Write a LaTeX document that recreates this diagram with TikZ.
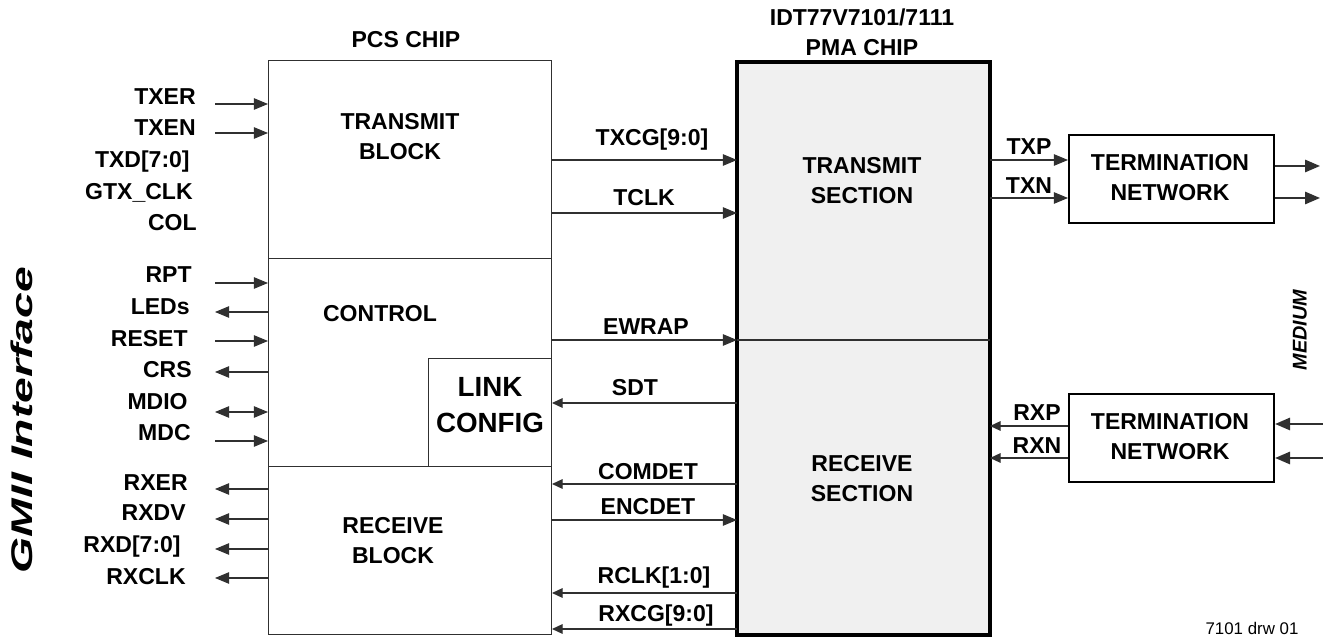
\documentclass[tikz,border=0pt]{standalone}
\usepackage{fontspec}
\setmainfont{Liberation Sans}
\usetikzlibrary{arrows.meta}
\newlength\px
\setlength\px{0.02cm}
\newcommand\lbf{\fontsize{13.1}{17}\selectfont\bfseries}
\newcommand\bigf{\fontsize{15.8}{20.4}\selectfont\bfseries}
\definecolor{pmafill}{HTML}{F0F0F0}
\definecolor{ln}{HTML}{303030}
\tikzset{
  lbl/.style={font=\lbf, inner sep=0, align=center},
  sig/.style={font=\lbf, inner sep=0, anchor=base east},
  thinbox/.style={draw=ln, line width=0.6pt, inner sep=0, anchor=north west},
  secbox/.style={thinbox, fill=pmafill},
  termbox/.style={draw=black, line width=1.2pt, inner sep=0, anchor=north west},
  arr/.style={draw=ln, line width=0.6pt, -{Triangle[length=8pt,width=6.5pt]}},
  arrb/.style={draw=ln, line width=0.6pt, {Triangle[length=8pt,width=6.5pt]}-{Triangle[length=8pt,width=6.5pt]}},
  sarr/.style={draw=ln, line width=0.6pt, -{Triangle[length=6pt,width=5.5pt]}},
  barr/.style={draw=ln, line width=1.1pt, -{Triangle[length=8.5pt,width=7pt]}},
}
\begin{document}
\begin{tikzpicture}[x=0.02cm,y=-0.02cm]
\useasboundingbox (0,0) rectangle (1323,644);

% PCS chip blocks
\node[thinbox, minimum width=283\px, minimum height=198\px] (txb) at (268,60) {};
\node[thinbox, minimum width=283\px, minimum height=208\px] (ctl) at (268,258) {};
\node[thinbox, minimum width=283\px, minimum height=168\px] (rxb) at (268,466) {};
\node[thinbox, minimum width=123\px, minimum height=108\px] (link) at (428,358) {};

% PMA chip sections
\node[secbox, minimum width=252\px, minimum height=278\px] (tsec) at (737,62) {};
\node[secbox, minimum width=252\px, minimum height=294\px] (rsec) at (737,340) {};
\draw[line width=2.2pt] (tsec.north west) rectangle (rsec.south east);

% termination networks
\node[termbox, minimum width=205\px, minimum height=88\px] (tn1) at (1068,134) {};
\node[termbox, minimum width=205\px, minimum height=88\px] (tn2) at (1068,393) {};

% titles and block texts
\node[lbl] (pcst) at (406,40) {PCS CHIP};
\node[lbl] (pmat) at (862,32) {IDT77V7101/7111\\PMA CHIP};
\node[lbl] (txbt) at (400,137) {TRANSMIT\\BLOCK};
\node[lbl] (ctlt) at (380,314) {CONTROL};
\node[lbl] (rxbt) at (393,541) {RECEIVE\\BLOCK};
\node[font=\bigf, inner sep=0, align=center] (linkt) at (490,405) {LINK\\CONFIG};
\node[lbl] (tsect) at (862,181) {TRANSMIT\\SECTION};
\node[lbl] (rsect) at (862,479) {RECEIVE\\SECTION};
\node[lbl] (tn1t) at (1170,178) {TERMINATION\\NETWORK};
\node[lbl] (tn2t) at (1170,437) {TERMINATION\\NETWORK};

% rotated labels
\node[inner sep=0, rotate=90, font=\fontsize{17}{20}\selectfont\bfseries\itshape] (gmii) at (22,420) {\scalebox{1.55}[1]{GMII Interface}};
\node[inner sep=0, rotate=90, font=\fontsize{11.3}{13}\selectfont\bfseries\itshape] (medium) at (1300,330) {MEDIUM};
\node[inner sep=0, font=\fontsize{9.6}{11}\selectfont] (drw) at (1252,628) {7101 drw 01};

% left signal labels
\node[sig] (sTXER) at (196,105) {TXER};
\node[sig] (sTXEN) at (196,136) {TXEN};
\node[sig] (sTXD) at (190,168) {TXD[7:0]};
\node[sig] (sGTX) at (193,200) {GTX\_CLK};
\node[sig] (sCOL) at (197,231) {COL};
\node[sig] (sRPT) at (192,283) {RPT};
\node[sig] (sLED) at (190,315) {LEDs};
\node[sig] (sRST) at (188,347) {RESET};
\node[sig] (sCRS) at (192,378) {CRS};
\node[sig] (sMDIO) at (188,410) {MDIO};
\node[sig] (sMDC) at (191,441) {MDC};
\node[sig] (sRXER) at (188,491) {RXER};
\node[sig] (sRXDV) at (186,521) {RXDV};
\node[sig] (sRXD) at (181,553) {RXD[7:0]};
\node[sig] (sRXCLK) at (186,585) {RXCLK};

% left arrow ends
\coordinate (cTXER) at (215,104);
\coordinate (cTXEN) at (215,133);
\coordinate (cRPT) at (215,283);
\coordinate (cLED) at (215,312);
\coordinate (cRST) at (215,341);
\coordinate (cCRS) at (215,372);
\coordinate (cMDIO) at (215,412);
\coordinate (cMDC) at (215,441);
\coordinate (cRXER) at (215,489);
\coordinate (cRXDV) at (215,519);
\coordinate (cRXD) at (215,549);
\coordinate (cRXCLK) at (215,578);

\draw[arr] (cTXER) -- (cTXER -| txb.west);
\draw[arr] (cTXEN) -- (cTXEN -| txb.west);
\draw[arr] (cRPT) -- (cRPT -| ctl.west);
\draw[arr] (cLED -| ctl.west) -- (cLED);
\draw[arr] (cRST) -- (cRST -| ctl.west);
\draw[arr] (cCRS -| ctl.west) -- (cCRS);
\draw[arrb] (cMDIO) -- (cMDIO -| ctl.west);
\draw[arr] (cMDC) -- (cMDC -| ctl.west);
\draw[arr] (cRXER -| rxb.west) -- (cRXER);
\draw[arr] (cRXDV -| rxb.west) -- (cRXDV);
\draw[arr] (cRXD -| rxb.west) -- (cRXD);
\draw[arr] (cRXCLK -| rxb.west) -- (cRXCLK);

% middle connections
\coordinate (yTXCG) at (0,160);
\coordinate (yTCLK) at (0,213);
\coordinate (yEWRAP) at (0,340);
\coordinate (ySDT) at (0,403);
\coordinate (yCOM) at (0,484);
\coordinate (yENC) at (0,520);
\coordinate (yRCLK) at (0,593);
\coordinate (yRXCG) at (0,629);

\draw[arr] (txb.east |- yTXCG) -- (tsec.west |- yTXCG);
\draw[arr] (txb.east |- yTCLK) -- (tsec.west |- yTCLK);
\draw[arr] (ctl.east |- yEWRAP) -- (tsec.west |- yEWRAP);
\draw[line width=0.6pt, draw=ln] (tsec.west |- yEWRAP) -- (tsec.east |- yEWRAP);
\draw[sarr] (rsec.west |- ySDT) -- (link.east |- ySDT);
\draw[sarr] (rsec.west |- yCOM) -- (rxb.east |- yCOM);
\draw[arr] (rxb.east |- yENC) -- (rsec.west |- yENC);
\draw[sarr] (rsec.west |- yRCLK) -- (rxb.east |- yRCLK);
\draw[sarr] (rsec.west |- yRXCG) -- (rxb.east |- yRXCG);

\node[lbl] (lTXCG) at (652,140) {TXCG[9:0]};
\node[lbl] (lTCLK) at (644,198) {TCLK};
\node[lbl] (lEWRAP) at (646,327) {EWRAP};
\node[lbl] (lSDT) at (635,388) {SDT};
\node[lbl] (lCOM) at (648,472) {COMDET};
\node[lbl] (lENC) at (648,507) {ENCDET};
\node[lbl] (lRCLK) at (654,578) {RCLK[1:0]};
\node[lbl] (lRXCG) at (656,616) {RXCG[9:0]};

% right side connections
\coordinate (yTXP) at (0,160);
\coordinate (yTXN) at (0,198);
\coordinate (yRXP) at (0,426);
\coordinate (yRXN) at (0,458);
\draw[arr] (tsec.east |- yTXP) -- (tn1.west |- yTXP);
\draw[arr] (tsec.east |- yTXN) -- (tn1.west |- yTXN);
\draw[sarr] (tn2.west |- yRXP) -- (rsec.east |- yRXP);
\draw[sarr] (tn2.west |- yRXN) -- (rsec.east |- yRXN);
\node[lbl] (lTXP) at (1029,147) {TXP};
\node[lbl] (lTXN) at (1029,186) {TXN};
\node[lbl] (lRXP) at (1037,413) {RXP};
\node[lbl] (lRXN) at (1037,446) {RXN};

\coordinate (o1) at (1320,166);
\coordinate (o2) at (1320,198);
\coordinate (i1) at (1323,424);
\coordinate (i2) at (1323,458);
\draw[barr] (o1 -| tn1.east) -- (o1);
\draw[barr] (o2 -| tn1.east) -- (o2);
\draw[barr] (i1) -- (i1 -| tn2.east);
\draw[barr] (i2) -- (i2 -| tn2.east);
\end{tikzpicture}
\end{document}
